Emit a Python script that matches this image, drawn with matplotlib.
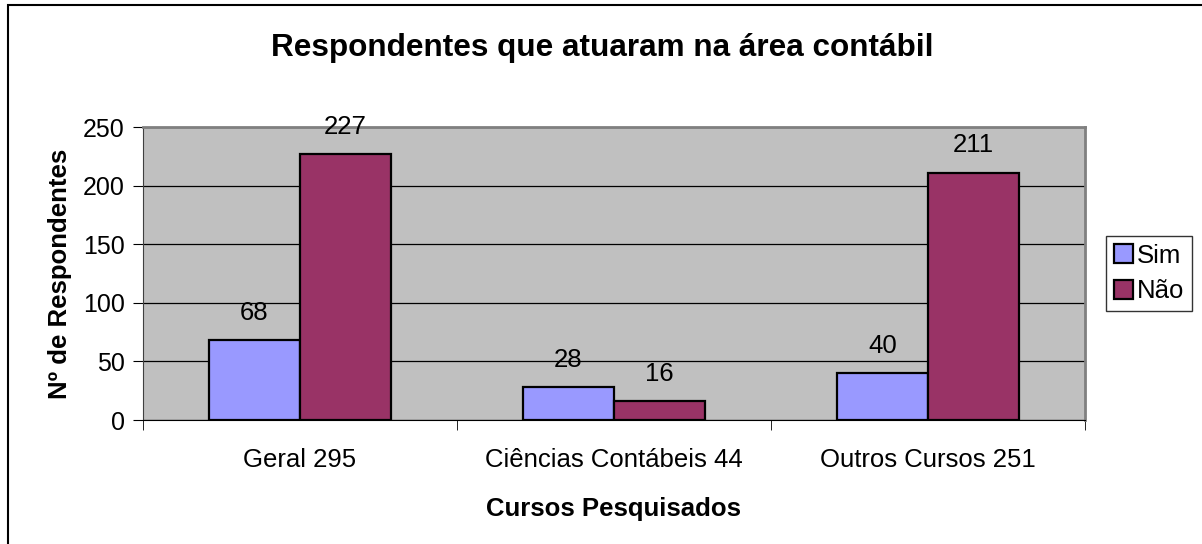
import numpy as np
import matplotlib.pyplot as plt
from matplotlib.patches import Rectangle

categorias = ['Geral 295', 'Ciências Contábeis 44', 'Outros Cursos 251']
sim = [68, 28, 40]
nao = [227, 16, 211]
series = ['Sim', 'Não']

plt.rcParams['font.family'] = ['Liberation Sans', 'DejaVu Sans']

fig = plt.figure(figsize=(12.02, 5.44), dpi=100)
W, H = 1202, 544
fs = 18.5

# moldura do gráfico (cortada à direita e embaixo, como no original)
fig.patches.append(Rectangle((8 / W, -0.1), 1.2, 1 - 5 / H + 0.1,
                             transform=fig.transFigure, fill=False,
                             edgecolor='black', linewidth=1.5))

ax = fig.add_axes([143 / W, (H - 420) / H, 942 / W, 293 / H])
ax.set_facecolor('#C0C0C0')

x = np.arange(len(categorias))
w = 0.29
b1 = ax.bar(x - w / 2, sim, w, color='#9999FF', edgecolor='black',
            linewidth=1.6, label=series[0], zorder=3)
b2 = ax.bar(x + w / 2, nao, w, color='#993366', edgecolor='black',
            linewidth=1.6, label=series[1], zorder=3)

for bars in (b1, b2):
    for r in bars:
        ax.annotate(str(int(r.get_height())),
                    (r.get_x() + r.get_width() / 2, r.get_height()),
                    xytext=(0, 11), textcoords='offset points',
                    ha='center', va='bottom', fontsize=fs)

ax.set_xlim(-0.5, 2.5)
ax.set_ylim(0, 250)
ax.set_yticks(range(0, 251, 50))
ax.yaxis.grid(True, color='black', linewidth=0.9, zorder=0)
ax.set_axisbelow(True)

ax.set_xticks(x)
ax.set_xticklabels(categorias, fontsize=fs)
ax.tick_params(axis='x', which='major', length=0, pad=20)
ax.set_xticks([-0.5, 0.5, 1.5, 2.5], minor=True)
ax.tick_params(axis='x', which='minor', length=7, direction='out', color='black')
ax.tick_params(axis='y', length=7, direction='out', labelsize=18, pad=6)

for s in ('top', 'right'):
    ax.spines[s].set_color('#808080')
    ax.spines[s].set_linewidth(2)
ax.spines['left'].set_color('#404040')
ax.spines['bottom'].set_color('black')

ax.set_xlabel('Cursos Pesquisados', fontsize=fs, fontweight='bold', labelpad=18)
ax.set_ylabel('Nº de Respondentes', fontsize=fs, fontweight='bold', labelpad=8)

fig.text(0.5 * (271 + 933) / W, 1 - 48 / H, 'Respondentes que atuaram na área contábil',
         ha='center', va='center', fontsize=22.7, fontweight='bold')

leg = ax.legend(loc='center left', bbox_to_anchor=((1106 - 143) / 942, 0.5),
                fontsize=fs, frameon=True, fancybox=False, edgecolor='black',
                handlelength=0.75, handleheight=0.75, handletextpad=0.15,
                borderpad=0.3, labelspacing=0.45, borderaxespad=0)
leg.get_frame().set_linewidth(1)

fig.savefig('out.png', dpi=100)
